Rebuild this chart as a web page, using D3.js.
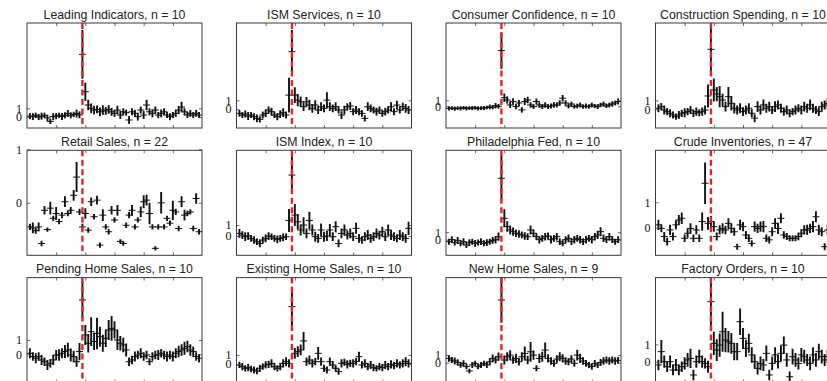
<!DOCTYPE html>
<html>
<head>
<meta charset="utf-8">
<script src="https://cdn.jsdelivr.net/npm/d3@7"></script>
<style>
  body { margin: 0; background: #fff; }
  svg { display: block; }
</style>
</head>
<body>
<script>
// Announcement-window response, one panel per release; bins 1..59, release at bin 19.
const releases = [
  "Leading Indicators", "ISM Services", "Consumer Confidence", "Construction Spending",
  "Retail Sales", "ISM Index", "Philadelphia Fed", "Crude Inventories",
  "Pending Home Sales", "Existing Home Sales", "New Home Sales", "Factory Orders"
];
const counts = [10, 10, 10, 10, 22, 10, 10, 47, 10, 10, 9, 10];
const releaseBin = 19;
const xTicks = [10, 20, 30, 40, 50];
const yTicks = [0, 1];
const yDomains = [
  [-1.26, 10.8], [-2.18, 9.9], [-3.62, 13.9], [-2.1, 9.7],
  [-0.98, 0.98], [-1.75, 7.8], [-2.08, 11.9], [-1.09, 3.05],
  [-1.98, 5.36], [-2.07, 9.6], [-2.62, 11.2], [-1.21, 4.86]
];

const leadingMean = [
  0.1, 0.05, 0.2, 0.0, 0.1, 0.2, -0.1, -0.5, 0.05, 0.1,
  0.2, 0.05, 0.2, 0.4, 0.2, 0.3, 0.4, 0.25, 7.2, 2.9,
  1.38, 1.0, 0.8, 0.87, 0.6, 0.8, 0.7, 0.87, 0.6, 0.42,
  0.8, 0.23, 0.6, 0.5, -0.34, 0.6, 0.42, 0.04, 0.8, 0.23,
  1.38, 0.6, 0.42, 0.8, 0.23, 0.42, 0.6, 0.23, 0.04, 0.23,
  0.42, 0.8, 1.15, 0.6, 0.23, 0.42, 0.23, 0.42, 0.23
];
const leadingErr = [
  0.35, 0.4, 0.3, 0.35, 0.4, 0.3, 0.35, 0.3, 0.4, 0.35,
  0.3, 0.4, 0.35, 0.4, 0.35, 0.3, 0.45, 0.4, 2.8, 1.05,
  0.6, 0.55, 0.5, 0.45, 0.5, 0.55, 0.45, 0.5, 0.45, 0.4,
  0.5, 0.45, 0.4, 0.35, 0.45, 0.4, 0.4, 0.45, 0.4, 0.45,
  0.6, 0.4, 0.45, 0.4, 0.35, 0.45, 0.4, 0.35, 0.4, 0.35,
  0.4, 0.45, 0.6, 0.4, 0.35, 0.4, 0.35, 0.4, 0.35
];

const ismServicesMean = [
  -0.5, -0.69, -0.58, -0.8, -0.69, -0.88, -1.07, -1.19, -0.69, -0.5,
  -0.11, -0.3, -0.69, -0.88, -0.58, -0.42, -0.69, 1.6, 6.6, 1.6,
  1.03, 0.84, 0.27, 0.84, 0.46, 0.08, 0.46, -0.11, 0.27, 0.08,
  1.03, 0.27, 0.08, 0.27, -0.11, -0.69, -0.11, 0.27, 0.35, -0.3,
  -0.11, -0.3, -0.5, -1.07, 0.27, 0.08, -0.11, -0.3, -0.11, -0.5,
  -0.3, -0.11, 0.27, -0.3, 0.46, -0.11, 0.27, 0.08, -0.11
];
const ismServicesErr = [
  0.4, 0.35, 0.4, 0.45, 0.35, 0.4, 0.45, 0.35, 0.4, 0.45,
  0.4, 0.45, 0.35, 0.4, 0.45, 0.5, 0.4, 2.0, 2.5, 0.9,
  0.7, 0.6, 0.5, 0.55, 0.6, 0.5, 0.55, 0.45, 0.5, 0.45,
  0.9, 0.5, 0.45, 0.5, 0.4, 0.45, 0.5, 0.4, 0.45, 0.4,
  0.45, 0.4, 0.4, 0.35, 0.5, 0.45, 0.4, 0.45, 0.4, 0.4,
  0.45, 0.4, 0.5, 0.4, 0.5, 0.4, 0.45, 0.5, 0.45
];

const consumerMean = [
  -0.35, -0.3, -0.4, -0.3, -0.35, -0.25, -0.35, -0.3, -0.3, -0.25,
  -0.35, -0.3, -0.3, -0.2, -0.1, -0.15, 0.1, 0.0, 9.3, 1.43,
  1.05, 0.22, 0.8, -0.05, 0.55, -0.6, 0.8, 1.05, 0.22, -0.05,
  0.8, 0.22, -0.05, 0.22, -0.05, 0.05, 0.22, 0.22, 0.55, 1.35,
  0.55, 0.05, 0.38, -0.05, 0.05, 0.22, -0.05, 0.05, -0.05, 0.22,
  0.05, -0.05, 0.22, 0.38, 0.05, 0.22, 0.38, 0.55, 0.8
];
const consumerErr = [
  0.35, 0.3, 0.35, 0.3, 0.35, 0.3, 0.35, 0.3, 0.35, 0.3,
  0.35, 0.3, 0.35, 0.3, 0.4, 0.35, 0.45, 0.4, 3.05, 0.7,
  0.6, 0.5, 0.55, 0.45, 0.5, 0.45, 0.6, 0.55, 0.45, 0.4,
  0.5, 0.45, 0.4, 0.45, 0.4, 0.4, 0.45, 0.4, 0.45, 0.55,
  0.45, 0.4, 0.4, 0.35, 0.4, 0.4, 0.35, 0.4, 0.35, 0.4,
  0.35, 0.4, 0.35, 0.4, 0.35, 0.4, 0.45, 0.4, 0.5
];

const constructionMean = [
  0.12, 0.3, -0.08, -0.26, -0.45, -0.64, -0.83, -0.64, -0.45, -0.38,
  -0.26, -0.08, -0.45, -0.26, -0.38, -0.26, -0.08, 1.5, 6.74, 2.17,
  1.72, 1.42, 1.04, 0.3, 1.42, 0.67, 0.12, -0.08, 0.12, -0.26,
  -0.08, 0.12, -0.45, -1.0, 0.3, -0.08, 0.49, 0.12, 0.3, -0.08,
  0.3, 0.49, 0.12, -0.26, -0.08, -0.45, -0.26, -0.08, 0.12, -0.08,
  0.3, 0.12, 0.49, 0.12, -0.08, -0.26, 0.3, 0.49, 0.67
];
const constructionErr = [
  0.45, 0.4, 0.5, 0.4, 0.45, 0.4, 0.35, 0.45, 0.4, 0.5,
  0.4, 0.45, 0.4, 0.45, 0.4, 0.45, 0.5, 1.3, 2.5, 1.3,
  0.8, 1.2, 0.7, 0.55, 1.1, 0.8, 0.6, 0.5, 0.55, 0.5,
  0.5, 0.55, 0.45, 0.45, 0.6, 0.5, 0.6, 0.5, 0.55, 0.45,
  0.6, 0.5, 0.5, 0.45, 0.5, 0.45, 0.4, 0.5, 0.45, 0.5,
  0.55, 0.5, 0.6, 0.5, 0.45, 0.5, 0.55, 0.5, 0.6
];

const retailMean = [
  -0.45, -0.47, -0.52, -0.45, -0.76, -0.14, -0.5, -0.1, -0.29, -0.2,
  -0.35, -0.23, 0.02, -0.2, -0.14, 0.14, 0.48, -0.17, -0.45, -0.2,
  -0.51, 0.02, -0.26, 0.05, -0.79, -0.23, -0.45, -0.54, -0.14, -0.32,
  -0.14, -0.72, -0.76, -0.42, -0.23, -0.14, -0.45, -0.32, -0.17, 0.02,
  0.05, -0.2, -0.45, -0.85, -0.45, 0.0, -0.45, -0.29, -0.38, -0.14,
  -0.17, -0.48, 0.02, -0.23, -0.2, -0.17, -0.48, 0.08, -0.54
];
const retailErr = [
  0.06, 0.1, 0.06, 0.08, 0.05, 0.08, 0.04, 0.12, 0.05, 0.12,
  0.05, 0.06, 0.1, 0.05, 0.06, 0.1, 0.28, 0.06, 0.06, 0.1,
  0.05, 0.08, 0.05, 0.08, 0.05, 0.11, 0.05, 0.05, 0.08, 0.05,
  0.1, 0.04, 0.04, 0.05, 0.06, 0.1, 0.05, 0.05, 0.1, 0.12,
  0.1, 0.2, 0.05, 0.04, 0.05, 0.2, 0.05, 0.05, 0.05, 0.18,
  0.06, 0.05, 0.1, 0.1, 0.05, 0.05, 0.05, 0.1, 0.05
];

const ismIndexMean = [
  0.24, 0.09, -0.06, 0.0, -0.21, -0.36, -0.52, -0.67, -0.36, -0.21,
  0.0, -0.06, -0.21, -0.3, -0.21, -0.12, -0.06, 1.42, 5.55, 1.91,
  1.3, 0.55, 1.0, 0.24, 1.42, 0.55, -0.06, -0.21, 0.55, -0.06,
  0.0, 0.55, -0.06, 0.85, -0.67, 0.24, 0.55, 0.09, 0.24, -0.06,
  0.7, -0.21, -0.36, -0.06, 0.09, -0.21, -0.06, 0.24, 0.09, 0.39,
  -0.06, 0.55, 0.09, -0.06, -0.21, 0.09, -0.06, -0.21, 0.7
];
const ismIndexErr = [
  0.4, 0.35, 0.4, 0.35, 0.3, 0.35, 0.3, 0.35, 0.3, 0.35,
  0.35, 0.3, 0.3, 0.35, 0.3, 0.35, 0.3, 1.05, 1.7, 1.0,
  0.7, 0.5, 0.7, 0.45, 0.8, 0.5, 0.45, 0.4, 0.6, 0.45,
  0.45, 0.55, 0.4, 0.5, 0.35, 0.45, 0.5, 0.4, 0.45, 0.4,
  0.5, 0.4, 0.35, 0.4, 0.45, 0.4, 0.4, 0.45, 0.4, 0.45,
  0.4, 0.5, 0.45, 0.4, 0.35, 0.45, 0.4, 0.4, 0.6
];

const phillyMean = [
  -0.26, 0.0, -0.39, -0.09, -0.49, -0.26, -0.71, -0.39, -0.26, -0.49,
  -0.39, -0.26, -0.49, -0.39, -0.26, -0.09, 0.0, 0.4, 8.18, 2.85,
  1.74, 1.29, 1.07, 0.85, 0.76, 0.63, 0.49, 0.4, 1.29, 0.85,
  0.4, 0.0, 0.18, 0.4, 0.49, 0.0, 0.18, 0.4, -0.26, -0.49,
  0.0, 0.18, -0.26, 0.0, 0.18, 0.0, -0.26, 0.0, 0.18, 0.0,
  0.4, 0.63, 1.07, 0.18, 0.0, 0.4, 0.0, -0.26, 0.0
];
const phillyErr = [
  0.4, 0.45, 0.4, 0.45, 0.4, 0.45, 0.4, 0.45, 0.4, 0.45,
  0.4, 0.45, 0.4, 0.45, 0.4, 0.45, 0.5, 0.55, 3.0, 1.2,
  0.7, 0.6, 0.55, 0.5, 0.5, 0.45, 0.5, 0.45, 0.6, 0.5,
  0.45, 0.5, 0.45, 0.5, 0.45, 0.5, 0.45, 0.5, 0.45, 0.4,
  0.45, 0.5, 0.45, 0.5, 0.45, 0.5, 0.45, 0.5, 0.45, 0.5,
  0.5, 0.55, 0.6, 0.5, 0.45, 0.5, 0.45, 0.4, 0.45
];

const crudeMean = [
  0.11, -0.03, -0.35, -0.55, -0.09, -0.35, 0.11, 0.3, 0.37, -0.42,
  -0.22, -0.03, -0.42, -0.09, -0.42, 0.24, 1.75, 0.17, 0.24, 0.04,
  -0.35, -0.09, -0.03, -0.09, 0.17, -0.03, -0.16, -0.75, 0.11, 0.04,
  -0.29, -0.42, -0.62, 0.04, -0.03, 0.04, 0.04, -0.42, -0.48, -0.16,
  0.17, -0.03, 0.37, -0.29, -0.35, -0.42, -0.42, -0.42, -0.35, -0.22,
  -0.09, -0.09, -0.03, 0.04, 0.43, -0.09, -0.16, -0.75, -0.09
];
const crudeErr = [
  0.2, 0.15, 0.18, 0.15, 0.2, 0.16, 0.18, 0.2, 0.23, 0.15,
  0.18, 0.2, 0.15, 0.18, 0.15, 0.36, 0.82, 0.25, 0.22, 0.2,
  0.16, 0.18, 0.2, 0.17, 0.2, 0.18, 0.16, 0.12, 0.2, 0.18,
  0.16, 0.15, 0.12, 0.2, 0.18, 0.2, 0.22, 0.15, 0.14, 0.18,
  0.2, 0.22, 0.2, 0.15, 0.14, 0.12, 0.12, 0.12, 0.15, 0.16,
  0.18, 0.2, 0.18, 0.22, 0.22, 0.2, 0.18, 0.14, 0.2
];

const pendingMean = [
  0.07, -0.16, -0.28, -0.16, -0.4, -0.52, -0.75, -0.63, -0.4, -0.05,
  -0.05, 0.07, 0.19, 0.3, -0.05, -0.16, -0.52, 0.19, 3.8, 1.35,
  0.77, 1.58, 0.9, 1.46, 1.23, 0.77, 1.11, 1.7, 1.81, 1.7,
  1.0, 0.77, 0.65, 0.3, -0.52, -0.4, -0.16, -0.05, 0.07, -0.16,
  -0.05, -0.52, -0.16, -0.05, -0.05, 0.07, -0.05, -0.16, -0.05, -0.16,
  0.07, 0.19, 0.3, 0.42, 0.54, 0.3, 0.19, -0.16, -0.28
];
const pendingErr = [
  0.35, 0.3, 0.35, 0.3, 0.35, 0.3, 0.35, 0.3, 0.35, 0.35,
  0.4, 0.35, 0.45, 0.5, 0.45, 0.4, 0.35, 0.6, 1.3, 0.7,
  0.64, 1.0, 0.6, 1.1, 0.7, 0.6, 0.6, 0.7, 0.87, 0.6,
  0.7, 0.5, 0.5, 0.45, 0.3, 0.3, 0.35, 0.3, 0.35, 0.3,
  0.3, 0.25, 0.3, 0.3, 0.35, 0.3, 0.3, 0.35, 0.3, 0.35,
  0.35, 0.4, 0.4, 0.45, 0.4, 0.4, 0.35, 0.3, 0.3
];

const existingMean = [
  -0.11, -0.3, -0.48, -0.41, -0.56, -0.67, -0.78, -0.48, -0.3, -0.11,
  -0.04, 0.07, -0.3, -0.48, -0.3, 0.07, 0.26, 0.07, 6.37, 1.18,
  1.37, 1.56, 2.56, 0.26, 0.44, 0.07, 0.26, 1.18, 0.26, -0.48,
  -0.67, 0.26, -0.11, -0.48, -0.85, 0.07, 0.19, -0.04, 0.07, 0.07,
  0.26, 0.81, -0.11, 0.07, -0.3, -0.11, -0.41, -0.48, -0.3, -0.41,
  -0.11, -0.3, -0.04, -0.19, 0.07, -0.11, 0.07, 0.26, 0.07
];
const existingErr = [
  0.35, 0.4, 0.35, 0.4, 0.35, 0.4, 0.35, 0.4, 0.35, 0.4,
  0.4, 0.45, 0.4, 0.35, 0.4, 0.45, 0.5, 0.45, 2.2, 0.6,
  0.6, 0.6, 1.0, 0.45, 0.5, 0.45, 0.4, 0.7, 0.45, 0.4,
  0.4, 0.45, 0.4, 0.35, 0.35, 0.45, 0.4, 0.45, 0.4, 0.45,
  0.4, 0.55, 0.4, 0.45, 0.4, 0.45, 0.4, 0.35, 0.4, 0.4,
  0.45, 0.4, 0.45, 0.4, 0.45, 0.4, 0.45, 0.5, 0.45
];

const newHomeMean = [
  0.57, 0.35, 0.22, 0.04, -0.3, -0.09, -0.52, -1.09, -0.3, -0.09,
  -0.52, -0.3, -0.09, -0.3, 0.13, 0.57, 0.35, 0.79, 8.25, 0.35,
  0.79, 1.0, 0.35, 0.57, 0.13, 0.79, 1.22, 0.35, 1.44, 1.0,
  -0.74, 0.57, 0.79, 1.66, 0.57, 0.22, -0.09, 0.48, 0.79, 0.57,
  0.22, 0.13, 0.48, -0.09, 1.0, 0.57, 0.22, -0.09, -0.3, -0.52,
  -0.09, -0.3, 0.04, 0.22, 0.35, 0.22, 0.35, 0.22, 0.31
];
const newHomeErr = [
  0.45, 0.4, 0.45, 0.4, 0.35, 0.4, 0.35, 0.3, 0.4, 0.35,
  0.35, 0.4, 0.35, 0.4, 0.45, 0.5, 0.45, 0.55, 3.0, 0.6,
  0.6, 0.65, 0.5, 0.6, 0.5, 0.6, 0.9, 0.55, 1.3, 0.6,
  0.4, 0.6, 0.65, 1.0, 0.55, 0.5, 0.45, 0.5, 0.6, 0.55,
  0.5, 0.45, 0.5, 0.45, 0.7, 0.6, 0.5, 0.45, 0.4, 0.4,
  0.45, 0.4, 0.45, 0.5, 0.45, 0.5, 0.45, 0.5, 0.45
];

const factoryMean = [
  -0.19, 0.58, 0.0, -0.29, 0.0, -0.48, -0.19, -0.48, -0.29, -0.1,
  0.1, 0.19, -0.77, 0.0, 0.29, 0.0, -0.1, -0.29, 3.47, 1.06,
  0.67, 0.96, 1.73, 1.25, 1.15, 1.06, 0.58, 0.58, 2.31, 1.35,
  0.77, 1.06, 0.39, 0.0, -0.39, -0.1, -0.19, 0.48, -0.77, -0.1,
  0.39, 0.0, 0.48, 0.96, 0.1, -0.87, 0.29, 0.1, -0.1, 0.39,
  0.29, 0.1, -0.1, 0.39, 0.1, 0.58, 0.29, 0.1, 0.29
];
const factoryErr = [
  0.3, 0.67, 0.35, 0.3, 0.35, 0.3, 0.35, 0.3, 0.3, 0.35,
  0.4, 0.55, 0.3, 0.35, 0.4, 0.35, 0.3, 0.35, 1.5, 0.67,
  0.63, 0.67, 1.15, 0.7, 0.62, 0.6, 0.5, 0.5, 0.77, 0.6,
  0.5, 0.55, 0.45, 0.4, 0.35, 0.4, 0.35, 0.45, 0.3, 0.4,
  0.45, 0.4, 0.45, 0.5, 0.4, 0.3, 0.45, 0.4, 0.35, 0.4,
  0.4, 0.35, 0.4, 0.45, 0.4, 0.45, 0.4, 0.35, 0.4
];

const means = [leadingMean, ismServicesMean, consumerMean, constructionMean,
  retailMean, ismIndexMean, phillyMean, crudeMean,
  pendingMean, existingMean, newHomeMean, factoryMean];
const errs = [leadingErr, ismServicesErr, consumerErr, constructionErr,
  retailErr, ismIndexErr, phillyErr, crudeErr,
  pendingErr, existingErr, newHomeErr, factoryErr];

// ---- layout ----
const W = 827, H = 381;
const panelW = 175, panelH = 105;
const colStep = 209.5, rowStep = 127.3;
const originX = 27, originY = 23;

const svg = d3.select("body").append("svg")
  .attr("width", W).attr("height", H)
  .attr("viewBox", `0 0 ${W} ${H}`);

releases.forEach((name, p) => {
  const col = p % 4, row = Math.floor(p / 4);
  const left = originX + col * colStep;
  const top = originY + row * rowStep;

  const x = d3.scaleLinear().domain([0, 60]).range([left, left + panelW]);
  const y = d3.scaleLinear().domain(yDomains[p]).range([top + panelH, top]);

  const g = svg.append("g");

  g.append("rect")
    .attr("x", left).attr("y", top)
    .attr("width", panelW).attr("height", panelH)
    .attr("fill", "#fff");

  const clipId = "clip" + p;
  g.append("clipPath").attr("id", clipId)
    .append("rect")
    .attr("x", left).attr("y", top)
    .attr("width", panelW).attr("height", panelH);

  const plot = g.append("g").attr("clip-path", `url(#${clipId})`);

  const pts = means[p].map((m, i) => ({ bin: i + 1, m, e: errs[p][i] }));

  // error bars
  plot.selectAll("line.bar").data(pts).enter().append("line")
    .attr("class", "bar")
    .attr("x1", d => x(d.bin)).attr("x2", d => x(d.bin))
    .attr("y1", d => y(d.m - d.e)).attr("y2", d => y(d.m + d.e))
    .attr("stroke", "#111").attr("stroke-width", 1.9);

  // mean ticks
  plot.selectAll("line.mean").data(pts).enter().append("line")
    .attr("class", "mean")
    .attr("x1", d => x(d.bin) - 3.5).attr("x2", d => x(d.bin) + 3.5)
    .attr("y1", d => y(d.m)).attr("y2", d => y(d.m))
    .attr("stroke", "#111").attr("stroke-width", 1);

  // release marker
  plot.append("line")
    .attr("x1", x(releaseBin)).attr("x2", x(releaseBin))
    .attr("y1", top).attr("y2", top + panelH)
    .attr("stroke", "#e3242b").attr("stroke-width", 2.4)
    .attr("stroke-dasharray", "6,3.5");

  // inward ticks on all four sides
  const styleAxis = sel => {
    sel.select(".domain").remove();
    sel.selectAll(".tick line").attr("stroke", "#444").attr("stroke-width", 0.8);
  };
  g.append("g").attr("transform", `translate(0,${top})`)
    .call(d3.axisTop(x).tickValues(xTicks).tickSize(-3).tickFormat(""))
    .call(styleAxis);
  g.append("g").attr("transform", `translate(0,${top + panelH})`)
    .call(d3.axisBottom(x).tickValues(xTicks).tickSize(-3).tickFormat(""))
    .call(styleAxis);
  g.append("g").attr("transform", `translate(${left + panelW},0)`)
    .call(d3.axisRight(y).tickValues(yTicks).tickSize(-3).tickFormat(""))
    .call(styleAxis);
  const yAxis = g.append("g").attr("transform", `translate(${left},0)`)
    .call(d3.axisLeft(y).tickValues(yTicks).tickSize(-3).tickPadding(5).tickFormat(d3.format("d")))
    .call(styleAxis);
  yAxis.attr("font-family", "'Liberation Serif', 'Times New Roman', serif")
    .attr("font-size", 12);
  yAxis.selectAll(".tick text").attr("fill", "#111");

  // frame
  g.append("rect")
    .attr("x", left).attr("y", top)
    .attr("width", panelW).attr("height", panelH)
    .attr("fill", "none").attr("stroke", "#3a3a3a").attr("stroke-width", 1);

  // title
  g.append("text")
    .attr("x", left + panelW / 2).attr("y", top - 4.5)
    .attr("text-anchor", "middle")
    .attr("font-family", "'Liberation Sans', Arial, Helvetica, sans-serif")
    .attr("font-size", 12.3)
    .attr("fill", "#222")
    .text(`${name}, n = ${counts[p]}`);
});
</script>
</body>
</html>
